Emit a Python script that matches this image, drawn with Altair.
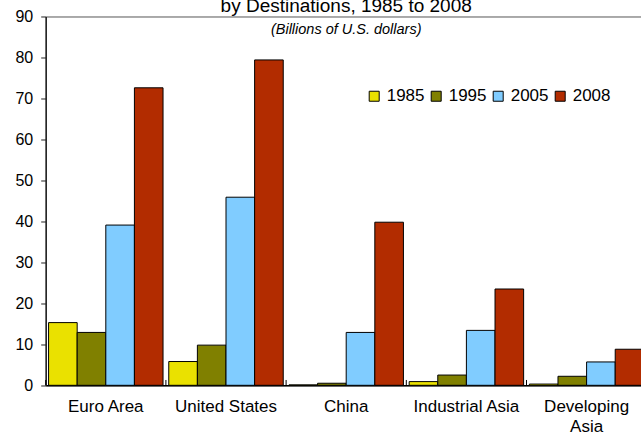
import altair as alt
import pandas as pd

# Exports by destination, billions of U.S. dollars
destinations = ["Euro Area", "United States", "China", "Industrial Asia", "Developing Asia"]
years = ["1985", "1995", "2005", "2008"]
exports_1985 = [15.3, 5.8, 0.1, 0.9, 0.3]
exports_1995 = [12.9, 9.8, 0.5, 2.5, 2.2]
exports_2005 = [39.1, 45.9, 12.9, 13.4, 5.7]
exports_2008 = [72.6, 79.4, 39.8, 23.5, 8.8]
year_colors = ["#EAE100", "#808000", "#80CCFF", "#B22C00"]
y_ticks = [0, 10, 20, 30, 40, 50, 60, 70, 80, 90]

series = dict(zip(years, [exports_1985, exports_1995, exports_2005, exports_2008]))
df = pd.DataFrame(
    [{"destination": d, "year": y, "value": v}
     for y in years for d, v in zip(destinations, series[y])]
)
bounds_df = pd.DataFrame({"destination": destinations})

x_enc = alt.X(
    "destination:N",
    sort=destinations,
    title=None,
    scale=alt.Scale(paddingInner=0, paddingOuter=0),
    axis=alt.Axis(
        labelAngle=0,
        labelFontSize=17,
        labelColor="black",
        labelPadding=13,
        labelLineHeight=20,
        labelExpr="datum.value == 'Developing Asia' ? ['Developing', 'Asia'] : datum.label",
        ticks=False,
        tickSize=0,
        domainColor="black",
        domainWidth=1.5,
        grid=False,
    ),
)

bars = alt.Chart(df).mark_bar(stroke="black", strokeWidth=1).encode(
    x=x_enc,
    xOffset=alt.XOffset(
        "year:N", sort=years, scale=alt.Scale(paddingInner=0, paddingOuter=0.1)
    ),
    y=alt.Y(
        "value:Q",
        title=None,
        scale=alt.Scale(domain=[0, 90], nice=False, zero=True),
        axis=alt.Axis(
            values=y_ticks,
            labelFontSize=16,
            labelColor="black",
            labelPadding=8,
            tickSize=5,
            tickColor="#222",
            domainColor="#222",
            domainWidth=1.5,
            grid=False,
        ),
    ),
    fill=alt.Fill(
        "year:N",
        sort=years,
        scale=alt.Scale(domain=years, range=year_colors),
        legend=alt.Legend(
            title=None,
            orient="none",
            legendX=320,
            legendY=71,
            direction="horizontal",
            columns=4,
            symbolType="square",
            symbolSize=100,
            symbolStrokeColor="black",
            symbolStrokeWidth=1,
            symbolOpacity=1,
            labelFontSize=17,
            labelColor="black",
            labelOffset=4,
            columnPadding=3,
            padding=0,
        ),
    ),
)

# small upward ticks separating the destination groups
group_ticks = alt.Chart(bounds_df).mark_rule(color="black", strokeWidth=1).encode(
    x=alt.X("destination:N", sort=destinations, bandPosition=0),
    y=alt.datum(0),
    y2=alt.datum(1.3),
)

chart = (
    alt.layer(bars, group_ticks)
    .properties(
        width=601,
        height=368.8,
        padding={"left": 45.7, "top": 16.5, "right": -5.7, "bottom": 47},
        autosize=alt.AutoSizeParams(type="none"),
        title=alt.TitleParams(
            text="by Destinations, 1985 to 2008",
            subtitle="(Billions of U.S. dollars)",
            fontSize=19,
            fontWeight="normal",
            color="black",
            subtitleFontSize=14.5,
            subtitleFontStyle="italic",
            subtitleColor="black",
            subtitlePadding=7,
            offset=-28,
            anchor="middle",
            frame="group",
        ),
    )
    .configure(font="Liberation Sans")
    .configure_view(stroke="#555", strokeWidth=1)
)

chart.save("out.html", embed_options={"renderer": "svg", "actions": False})
